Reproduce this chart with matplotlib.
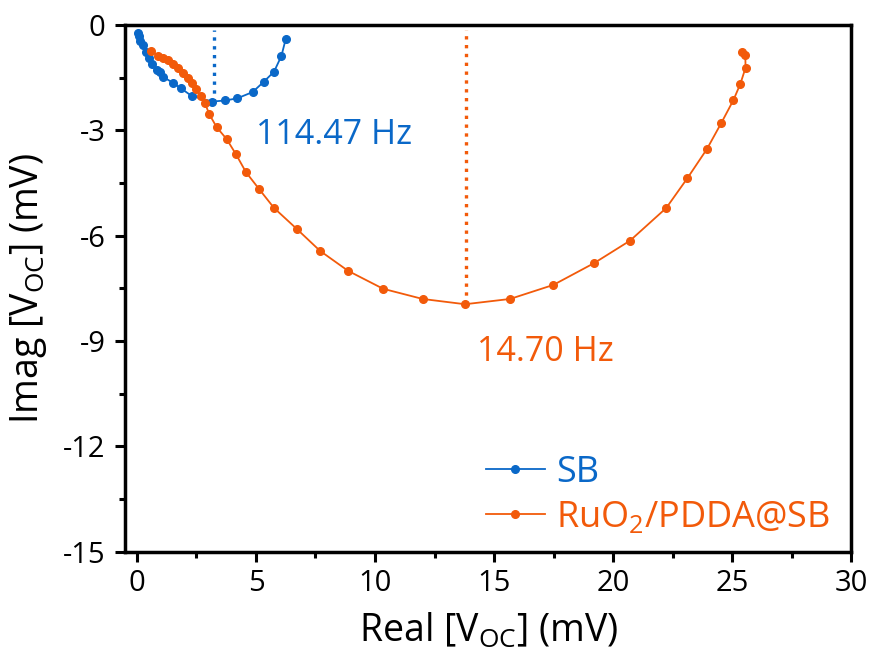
"""Nyquist-style plot of Imag vs Real open-circuit voltage for SB and RuO2/PDDA@SB."""

import matplotlib
matplotlib.use("Agg")
import matplotlib.pyplot as plt
from matplotlib.ticker import MultipleLocator

plt.rcParams["font.family"] = ["Open Sans", "DejaVu Sans"]
plt.rcParams["mathtext.default"] = "regular"
plt.rcParams["axes.unicode_minus"] = False

BLUE = "#0a68c8"
ORANGE = "#f25a0a"

# SB series (mV)
sb_real = [0.04, 0.08, 0.15, 0.25, 0.40, 0.50, 0.65, 0.84, 0.97, 1.08,
           1.50, 1.84, 2.30, 3.17, 3.70, 4.21, 4.86, 5.34, 5.76, 6.07, 6.25]
sb_imag = [-0.23, -0.31, -0.47, -0.57, -0.78, -0.95, -1.12, -1.27, -1.35, -1.47,
           -1.64, -1.80, -2.02, -2.18, -2.15, -2.09, -1.91, -1.61, -1.33, -0.88, -0.40]

# RuO2/PDDA@SB series (mV)
ru_real = [0.58, 0.89, 1.10, 1.32, 1.53, 1.74, 1.95, 2.16, 2.30, 2.48,
           2.68, 2.86, 3.04, 3.35, 3.77, 4.16, 4.58, 5.13, 5.76, 6.72,
           7.69, 8.87, 10.34, 12.00, 13.78, 15.67, 17.49, 19.20, 20.71, 22.23,
           23.12, 23.94, 24.55, 25.05, 25.34, 25.56, 25.55, 25.41]
ru_imag = [-0.73, -0.88, -0.95, -1.00, -1.11, -1.23, -1.37, -1.52, -1.66, -1.82,
           -2.02, -2.23, -2.54, -2.91, -3.25, -3.68, -4.19, -4.67, -5.21, -5.81,
           -6.43, -7.00, -7.51, -7.80, -7.95, -7.80, -7.40, -6.78, -6.14, -5.21,
           -4.36, -3.53, -2.78, -2.14, -1.68, -1.22, -0.85, -0.78]

# peak-frequency markers
sb_peak = (3.24, -2.18, "114.47 Hz")
ru_peak = (13.82, -7.95, "14.70 Hz")

fig = plt.figure(figsize=(8.74, 6.57), dpi=100)
ax = fig.add_axes([0.143, 0.160, 0.831, 0.802])

ax.plot(sb_real, sb_imag, "-o", color=BLUE, lw=1.3, ms=5.5, label="SB")
ax.plot(ru_real, ru_imag, "-o", color=ORANGE, lw=1.3, ms=5.5, label="RuO$_2$/PDDA@SB")

ax.plot([sb_peak[0], sb_peak[0]], [sb_peak[1], -0.15], ":", color=BLUE, lw=2.4)
ax.plot([ru_peak[0], ru_peak[0]], [ru_peak[1], -0.15], ":", color=ORANGE, lw=2.4)
ax.text(5.0, -3.13, sb_peak[2], color=BLUE, fontsize=24.5, va="center", ha="left")
ax.text(14.3, -9.31, ru_peak[2], color=ORANGE, fontsize=24.5, va="center", ha="left")

ax.set_xlim(-0.5, 30)
ax.set_ylim(-15, 0)
ax.xaxis.set_major_locator(MultipleLocator(5))
ax.xaxis.set_minor_locator(MultipleLocator(2.5))
ax.yaxis.set_major_locator(MultipleLocator(3))
ax.yaxis.set_minor_locator(MultipleLocator(1.5))
ax.tick_params(which="major", direction="out", length=7, width=2.2, labelsize=21)
ax.tick_params(axis="y", which="major", pad=7)
ax.tick_params(axis="x", which="major", pad=5)
ax.tick_params(which="minor", direction="out", length=4, width=2.2)
for s in ax.spines.values():
    s.set_linewidth(2.5)

ax.set_xlabel("Real [V$_{OC}$] (mV)", fontsize=27, labelpad=10)
ax.set_ylabel("Imag [V$_{OC}$] (mV)", fontsize=27, labelpad=10)

leg = ax.legend(loc="lower right", bbox_to_anchor=(0.971, 0.03), frameon=False,
                fontsize=26, handlelength=1.65, handletextpad=0.3,
                labelspacing=0.25, borderpad=0, borderaxespad=0)
for txt, line in zip(leg.get_texts(), leg.get_lines()):
    txt.set_color(line.get_color())

fig.savefig("out.png", dpi=100)
